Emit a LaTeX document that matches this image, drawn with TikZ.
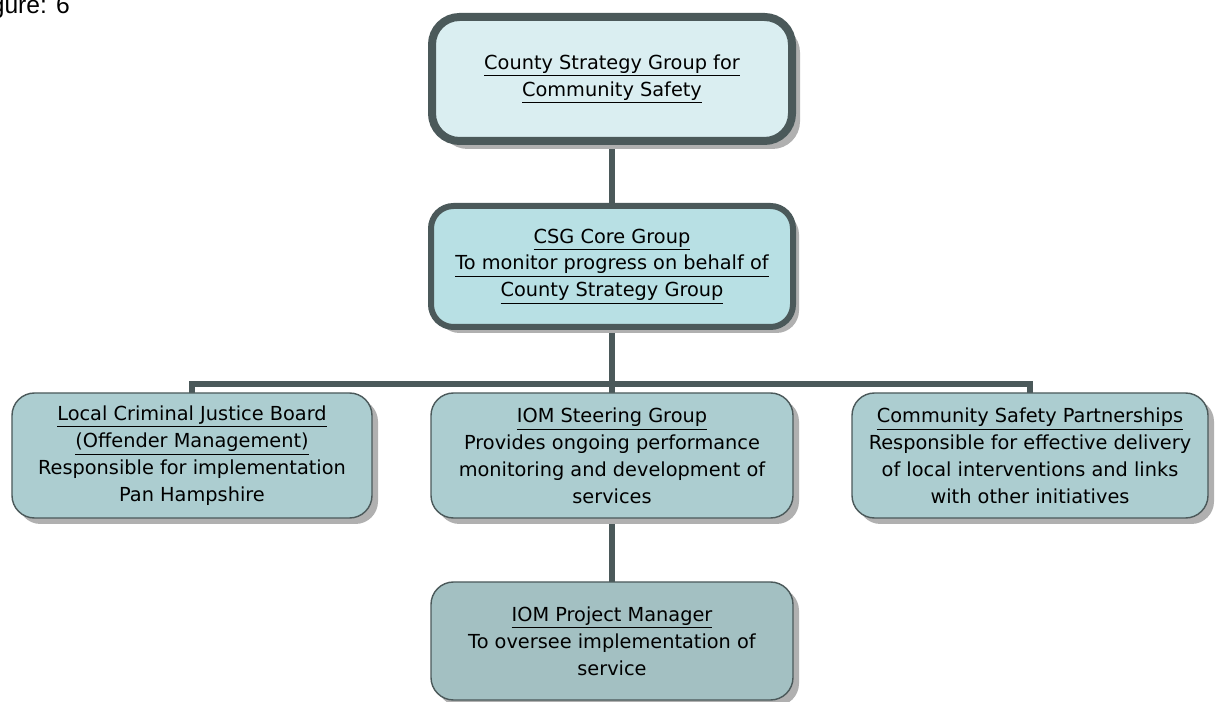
\documentclass[tikz,border=0pt]{standalone}
\usepackage{xcolor}
\usepackage{tikz}
\usepackage{fontspec}
\setmainfont{DejaVu Sans}
\newfontfamily\capfont{Liberation Sans}
\usetikzlibrary{shadows, shapes, arrows, positioning}

\definecolor{border}{HTML}{4B595A}
\definecolor{topfill}{HTML}{DAEEF1}
\definecolor{corefill}{HTML}{B8E0E4}
\definecolor{rowfill}{HTML}{ACCDD0}
\definecolor{pmfill}{HTML}{A3C0C2}
\definecolor{shadowgray}{HTML}{B0B0B0}

\begin{document}
\begin{tikzpicture}
        \useasboundingbox (0,0) rectangle (24.3,-14.04);
        \node[anchor=base west,inner sep=0pt,font=\capfont\fontsize{14}{16}\selectfont] (fig) at (-0.6,-0.27) {Figure: 6};
        % connectors go first so the boxes sit on top of them
        \coordinate (bar) at (12.24,-7.68);
        \begin{scope}[every path/.style={draw=border,line width=0.12cm}]
          \path (12.24,-1.58) -- (12.24,-12.82);
          \path (3.84,-9.11) |- (bar) -| (20.6,-9.11);
        \end{scope}
        \begin{scope}[every node/.style={rectangle,rounded corners=0.45cm,draw=border,line width=0.8pt,
            align=center,font=\fontsize{11}{15.3}\selectfont,inner sep=2pt,
            minimum width=7.2cm,minimum height=2.5cm,
            drop shadow={shadow xshift=0.12cm,shadow yshift=-0.12cm,fill=shadowgray,opacity=1}}]
          \node[fill=topfill,line width=0.16cm,rounded corners=0.55cm,minimum height=2.48cm,
            drop shadow={shadow xshift=0.16cm,shadow yshift=-0.16cm,fill=shadowgray,opacity=1}]
            (csg) at (12.24,-1.58) {\underline{County Strategy Group for}\\\underline{Community Safety}};
          \node[fill=corefill,line width=0.12cm,minimum width=7.24cm,minimum height=2.42cm]
            (core) at (12.24,-5.33) {\underline{CSG Core Group}\\\underline{To monitor progress on behalf of}\\\underline{County Strategy Group}};
          \node[fill=rowfill] (lcjb) at (3.84,-9.11)
            {\underline{Local Criminal Justice Board}\\\underline{(Offender Management)}\\Responsible for implementation\\Pan Hampshire};
          \node[fill=rowfill,minimum width=7.24cm] (iom) at (12.24,-9.11)
            {\underline{IOM Steering Group}\\Provides ongoing performance\\monitoring and development of\\services};
          \node[fill=rowfill,minimum width=7.12cm] (csp) at (20.6,-9.11)
            {\underline{Community Safety Partnerships}\\Responsible for effective delivery\\of local interventions and links\\with other initiatives};
          \node[fill=pmfill,minimum width=7.24cm,minimum height=2.36cm] (pm) at (12.24,-12.82)
            {\underline{IOM Project Manager}\\To oversee implementation of\\service};
        \end{scope}
      \end{tikzpicture}
\end{document}
